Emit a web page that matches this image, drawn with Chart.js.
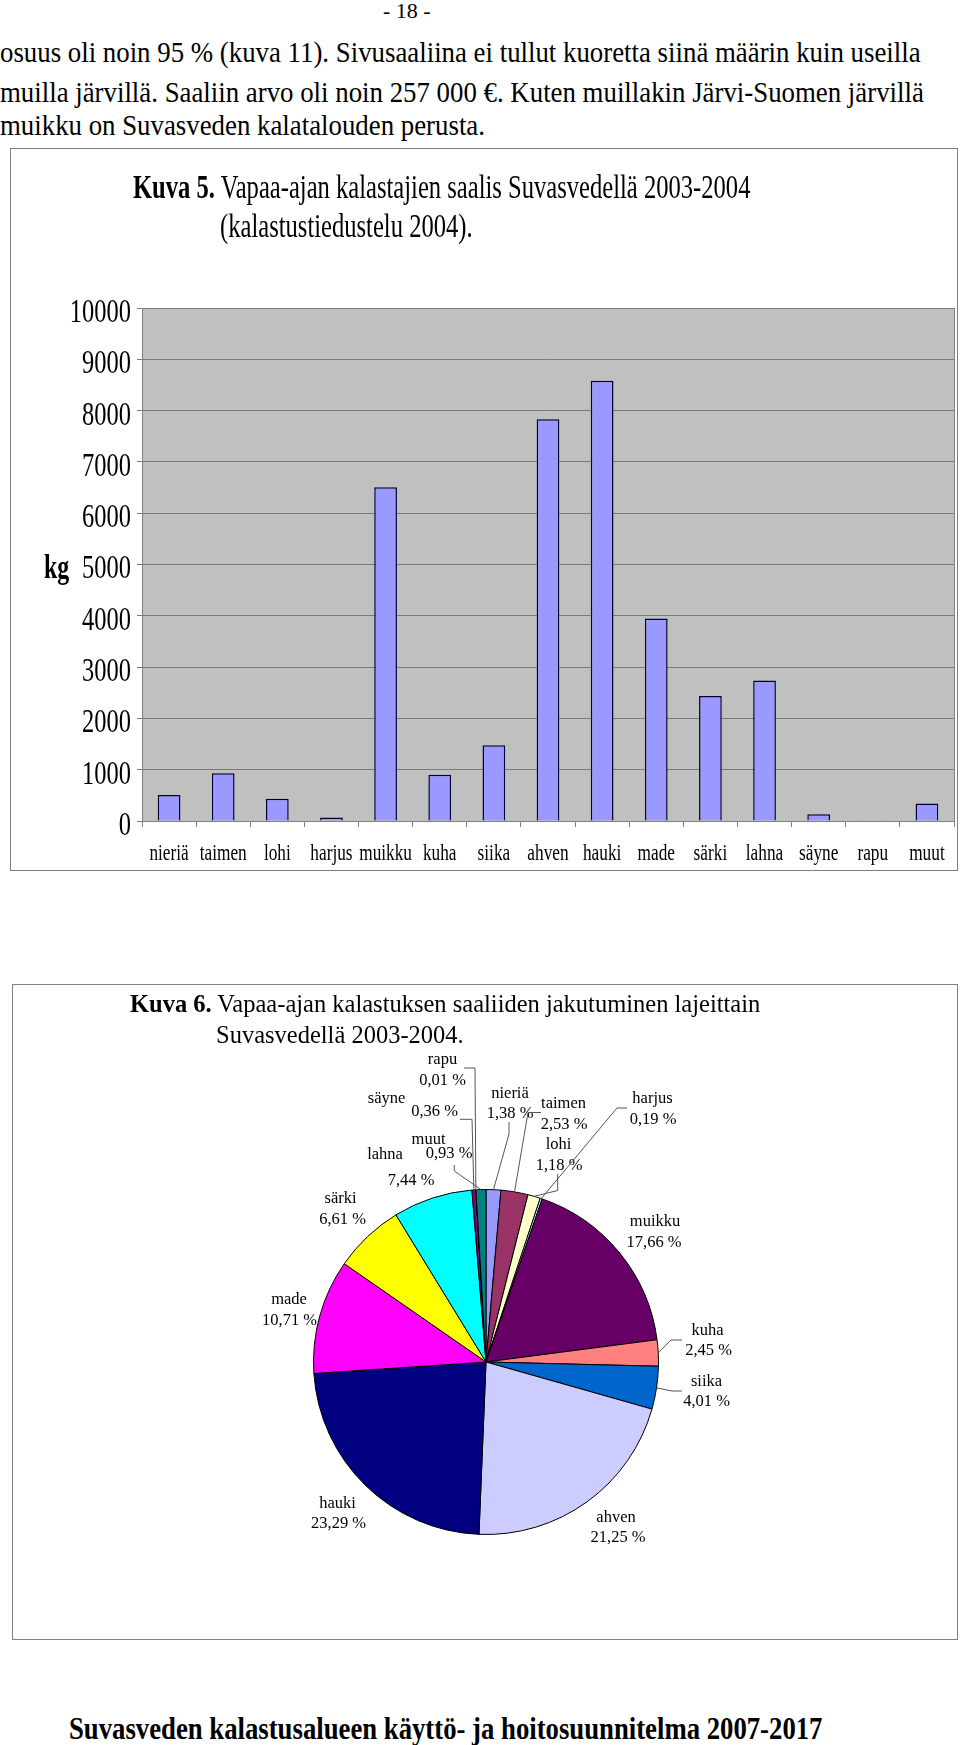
<!DOCTYPE html>
<html>
<head>
<meta charset="utf-8">
<script src="https://cdn.jsdelivr.net/npm/chart.js@4.4.0/dist/chart.umd.min.js"></script>
<style>
  body { margin: 0; width: 960px; height: 1745px; position: relative; background: #fff; overflow: hidden;
         font-family: "Liberation Serif", "Times New Roman", serif; color: #000; }
  .abs { position: absolute; white-space: nowrap; }
  .body-line { font-size: 29px; line-height: 29px; left: 0; }
  .cond { transform-origin: 0 0; display: inline-block; }
  .box { position: absolute; border: 1px solid #808080; box-sizing: border-box; }
  canvas { position: absolute; }
</style>
</head>
<body>
<div class="abs" style="left:383px;top:0px;font-size:22px;line-height:22px;">- 18 -</div>
<div class="abs body-line" style="top:38px;"><span class="cond" style="transform:scaleX(0.925);">osuus oli noin 95 % (kuva 11). Sivusaaliina ei tullut kuoretta siinä määrin kuin useilla</span></div>
<div class="abs body-line" style="top:78px;"><span class="cond" style="transform:scaleX(0.925);">muilla järvillä. Saaliin arvo oli noin 257 000 €. Kuten muillakin Järvi-Suomen järvillä</span></div>
<div class="abs body-line" style="top:111px;"><span class="cond" style="transform:scaleX(0.925);">muikku on Suvasveden kalatalouden perusta.</span></div>

<div class="box" style="left:10px;top:148px;width:948px;height:723px;"></div>
<canvas id="barChart" width="948" height="723" style="left:10px;top:148px;"></canvas>
<div class="abs" style="left:133px;top:171px;font-size:33px;line-height:33px;">
  <span class="cond" style="transform:scaleX(0.745);"><b>Kuva 5.</b> Vapaa-ajan kalastajien saalis Suvasvedellä 2003-2004</span>
</div>
<div class="abs" style="left:220px;top:210px;font-size:33px;line-height:33px;">
  <span class="cond" style="transform:scaleX(0.745);">(kalastustiedustelu 2004).</span>
</div>

<div class="box" style="left:12px;top:984px;width:946px;height:656px;"></div>
<canvas id="pieChart" width="946" height="656" style="left:12px;top:984px;"></canvas>
<div class="abs" style="left:130px;top:992px;font-size:24.5px;line-height:24.5px;"><b>Kuva 6.</b> Vapaa-ajan kalastuksen saaliiden jakutuminen lajeittain</div>
<div class="abs" style="left:216px;top:1023px;font-size:24.5px;line-height:24.5px;">Suvasvedellä 2003-2004.</div>

<div class="abs" style="left:69px;top:1712px;font-size:32px;line-height:32px;font-weight:bold;">
  <span class="cond" style="transform:scaleX(0.835);">Suvasveden kalastusalueen käyttö- ja hoitosuunnitelma 2007-2017</span>
</div>

<script>
// Data
const species = ["nieriä", "taimen", "lohi", "harjus", "muikku", "kuha", "siika", "ahven",
                 "hauki", "made", "särki", "lahna", "säyne", "rapu", "muut"];
const catchKg = [508, 932, 435, 70, 6506, 903, 1477, 7829, 8580, 3946, 2435, 2741, 133, 4, 343];
const sharePct = [1.38, 2.53, 1.18, 0.19, 17.66, 2.45, 4.01, 21.25, 23.29, 10.71, 6.61, 7.44, 0.36, 0.01, 0.93];
const kgAxisMax = 10000;
const kgAxisStep = 1000;

const sliceColors = ["#9999FF", "#993366", "#FFFFCC", "#CCFFFF", "#660066", "#FF8080", "#0066CC", "#CCCCFF",
                     "#000080", "#FF00FF", "#FFFF00", "#00FFFF", "#800080", "#800000", "#008080"];

// where each pie label sits on the page (name line, value line, leader elbow points)
const pieLabelSpots = [
  { name: [510, 1094], val: [510, 1114], lead: [[509, 1122], [509, 1134]] },
  { name: [563.5, 1104], val: [564, 1124.5], lead: [[541, 1112.5], [528, 1112.5]] },
  { name: [558.5, 1145], val: [559, 1166], lead: [[557.7, 1174], [557.7, 1190.5]] },
  { name: [652.5, 1098.5], val: [653, 1119.5], lead: [[627, 1108], [617, 1108]] },
  { name: [655, 1222], val: [654, 1242.5], lead: null },
  { name: [707.5, 1331], val: [708.5, 1351], lead: [[682, 1340], [671, 1340]] },
  { name: [706.5, 1381.5], val: [706.5, 1401.5], lead: [[682, 1391], [672, 1391]] },
  { name: [616, 1518], val: [618, 1538], lead: null },
  { name: [337.5, 1504], val: [338.5, 1523.5], lead: null },
  { name: [289, 1300], val: [289.5, 1321], lead: null },
  { name: [340.5, 1199], val: [342.5, 1220], lead: null },
  { name: [385, 1154.5], val: [411, 1180.5], lead: null },
  { name: [386.5, 1098.5], val: [434.5, 1112], lead: [[460, 1119.3], [472, 1119.3]] },
  { name: [442.5, 1060], val: [442.5, 1080.5], lead: [[464, 1068], [475, 1068]] },
  { name: [428.5, 1139.5], val: [449, 1154], lead: [[454.3, 1165], [454.3, 1171]] }
];

function condensedText(ctx, text, x, y, font, sx, align) {
  ctx.save();
  ctx.translate(x, y);
  ctx.scale(sx, 1);
  ctx.font = font;
  ctx.textAlign = align;
  ctx.textBaseline = "middle";
  ctx.fillStyle = "#000";
  ctx.fillText(text, 0, 0);
  ctx.restore();
}

// grey plot area of the bar chart
const plotBackground = {
  id: "plotBackground",
  beforeDraw(chart) {
    const { ctx, chartArea: a } = chart;
    ctx.save();
    ctx.fillStyle = "#C0C0C0";
    ctx.fillRect(a.left, a.top, a.right - a.left, a.bottom - a.top);
    ctx.restore();
  },
  beforeDatasetsDraw(chart) {
    const { ctx, chartArea: a } = chart;
    ctx.save();
    ctx.strokeStyle = "#808080";
    ctx.lineWidth = 1;
    ctx.beginPath();
    ctx.moveTo(a.right + 0.5, a.top);
    ctx.lineTo(a.right + 0.5, a.bottom);
    ctx.stroke();
    ctx.restore();
  }
};

// narrow Times-style axis labels, placed from the scales
const barAxisLabels = {
  id: "barAxisLabels",
  afterDraw(chart) {
    const { ctx } = chart;
    const ys = chart.scales.y;
    const xs = chart.scales.x;
    ys.ticks.forEach((t, i) => {
      condensedText(ctx, String(t.value), ys.right - 11, ys.getPixelForTick(i) + 5, '34px "Liberation Serif"', 0.72, "right");
    });
    xs.ticks.forEach((t, i) => {
      condensedText(ctx, species[i], xs.getPixelForTick(i), xs.top + 33, '24px "Liberation Serif"', 0.72, "center");
    });
    condensedText(ctx, "kg", 34, ys.getPixelForValue(5000) + 5, 'bold 34px "Liberation Serif"', 0.7, "left");
  }
};

new Chart(document.getElementById("barChart"), {
  type: "bar",
  data: {
    labels: species,
    datasets: [{
      data: catchKg,
      backgroundColor: "#9999FF",
      borderColor: "#000033",
      borderWidth: 1.5,
      barPercentage: 0.42,
      categoryPercentage: 1.0
    }]
  },
  options: {
    responsive: false,
    animation: false,
    layout: { padding: { top: 160, right: 4, left: 0, bottom: 0 } },
    plugins: { legend: { display: false }, tooltip: { enabled: false } },
    scales: {
      x: {
        grid: { offset: true, drawOnChartArea: false, drawTicks: true, tickLength: 6, color: "#808080" },
        border: { color: "#808080" },
        ticks: { display: false },
        afterFit(scale) { scale.height = 50; }
      },
      y: {
        min: 0,
        max: kgAxisMax,
        ticks: { stepSize: kgAxisStep, display: false },
        grid: { color: "#7a7a7a", tickLength: 5 },
        border: { color: "#808080" },
        afterFit(scale) { scale.width = 132; }
      }
    }
  },
  plugins: [plotBackground, barAxisLabels]
});

// pie labels with leader lines
const pieCanvasLeft = 12, pieCanvasTop = 984;
const pieLabels = {
  id: "pieLabels",
  afterDraw(chart) {
    const { ctx } = chart;
    const arcs = chart.getDatasetMeta(0).data;
    ctx.save();
    arcs.forEach((arc, i) => {
      const spot = pieLabelSpots[i];
      const p = arc.getProps(["x", "y", "startAngle", "endAngle", "outerRadius"], true);
      if (spot.lead) {
        const mid = (p.startAngle + p.endAngle) / 2;
        ctx.strokeStyle = "#555";
        ctx.lineWidth = 1;
        ctx.beginPath();
        spot.lead.forEach(([lx, ly], k) => {
          const cx = lx - pieCanvasLeft, cy = ly - pieCanvasTop;
          if (k === 0) ctx.moveTo(cx, cy); else ctx.lineTo(cx, cy);
        });
        ctx.lineTo(p.x + Math.cos(mid) * p.outerRadius, p.y + Math.sin(mid) * p.outerRadius);
        ctx.stroke();
      }
      ctx.fillStyle = "#000";
      ctx.font = '16.5px "Liberation Serif"';
      ctx.textAlign = "center";
      ctx.textBaseline = "middle";
      ctx.fillText(species[i], spot.name[0] - pieCanvasLeft, spot.name[1] - pieCanvasTop);
      const pct = sharePct[i].toFixed(2).replace(".", ",") + " %";
      ctx.fillText(pct, spot.val[0] - pieCanvasLeft, spot.val[1] - pieCanvasTop);
    });
    ctx.restore();
  }
};

new Chart(document.getElementById("pieChart"), {
  type: "pie",
  data: {
    labels: species,
    datasets: [{
      data: sharePct,
      backgroundColor: sliceColors,
      borderColor: "#000",
      borderWidth: 1
    }]
  },
  options: {
    responsive: false,
    animation: false,
    layout: { padding: { left: 301, right: 299, top: 205, bottom: 105 } },
    plugins: { legend: { display: false }, tooltip: { enabled: false } }
  },
  plugins: [pieLabels]
});
</script>
</body>
</html>
